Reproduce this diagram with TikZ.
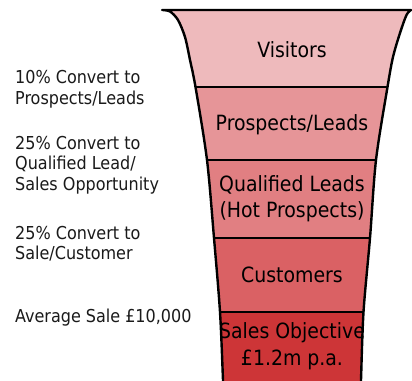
\documentclass[tikz,border=0pt]{standalone}
\usepackage{fontspec}
\setmainfont{DejaVu Sans Condensed}
\definecolor{cvis}{HTML}{EEBABC}
\definecolor{cpro}{HTML}{E69598}
\definecolor{cqua}{HTML}{E17F82}
\definecolor{ccus}{HTML}{DA6164}
\definecolor{csal}{HTML}{CD3537}
\definecolor{ctext}{HTML}{1A1A1A}
\tikzset{
  outline/.style={line width=2.4pt, black, line join=round},
  sep/.style={line width=2pt, black},
  flabel/.style={anchor=base, inner sep=0pt, font=\fontsize{21}{25}\selectfont, text=black},
  slabel/.style={anchor=base west, inner sep=0pt, font=\fontsize{17.8}{20}\selectfont, text=ctext}
}
\def\rightside{(411,10) (406.5,15) (400,33) (393,57) (387.5,87) (376,160) (370,238) (363.5,312) (361,380) (360.5,392)}
\def\leftside{(223.5,392) (223,380) (220,312) (214,238) (207,160) (195.5,87) (190,60) (185,37) (178,20) (170,11.5) (162,10)}
\begin{document}
\begin{tikzpicture}[x=1pt,y=-1pt]
\useasboundingbox (0,0) rectangle (412,380);
\fill[white] (0,0) rectangle (412,380);
\begin{scope}
  \clip plot[smooth,tension=0.5] coordinates {\rightside} -- plot[smooth,tension=0.5] coordinates {\leftside} -- cycle;
  \fill[cvis] (150,0) rectangle (420,87);
  \fill[cpro] (150,87) rectangle (420,160);
  \fill[cqua] (150,160) rectangle (420,238);
  \fill[ccus] (150,238) rectangle (420,312);
  \fill[csal] (150,312) rectangle (420,395);
  \coordinate (b1l) at (150,87);  \coordinate (b1r) at (420,87);
  \coordinate (b2l) at (150,160); \coordinate (b2r) at (420,160);
  \coordinate (b3l) at (150,238); \coordinate (b3r) at (420,238);
  \coordinate (b4l) at (150,312); \coordinate (b4r) at (420,312);
  \draw[sep] (b1l) -- (b1r);
  \draw[sep] (b2l) -- (b2r);
  \draw[sep] (b3l) -- (b3r);
  \draw[sep] (b4l) -- (b4r);
\end{scope}
\draw[outline] plot[smooth,tension=0.5] coordinates {\leftside} -- plot[smooth,tension=0.5] coordinates {\rightside};
% funnel labels
\node[flabel] (vis) at (292,57) {Visitors};
\node[flabel] (pro) at (292,130) {Prospects/Leads};
\node[flabel] (qua1) at (292,191) {Qualified Leads};
\node[flabel] (qua2) at (292,217) {(Hot Prospects)};
\node[flabel] (cus) at (292,282) {Customers};
\node[flabel] (sal1) at (292,338) {Sales Objective};
\node[flabel] (sal2) at (292,365) {£1.2m p.a.};
% side notes
\node[slabel] (n1a) at (15,83) {10\% Convert to};
\node[slabel] (n1b) at (15,104) {Prospects/Leads};
\node[slabel] (n2a) at (15,149) {25\% Convert to};
\node[slabel] (n2b) at (15,169) {Qualified Lead/};
\node[slabel] (n2c) at (15,190) {Sales Opportunity};
\node[slabel] (n3a) at (15,239) {25\% Convert to};
\node[slabel] (n3b) at (15,259) {Sale/Customer};
\node[slabel] (n4) at (15,322) {Average Sale £10,000};
\end{tikzpicture}
\end{document}
